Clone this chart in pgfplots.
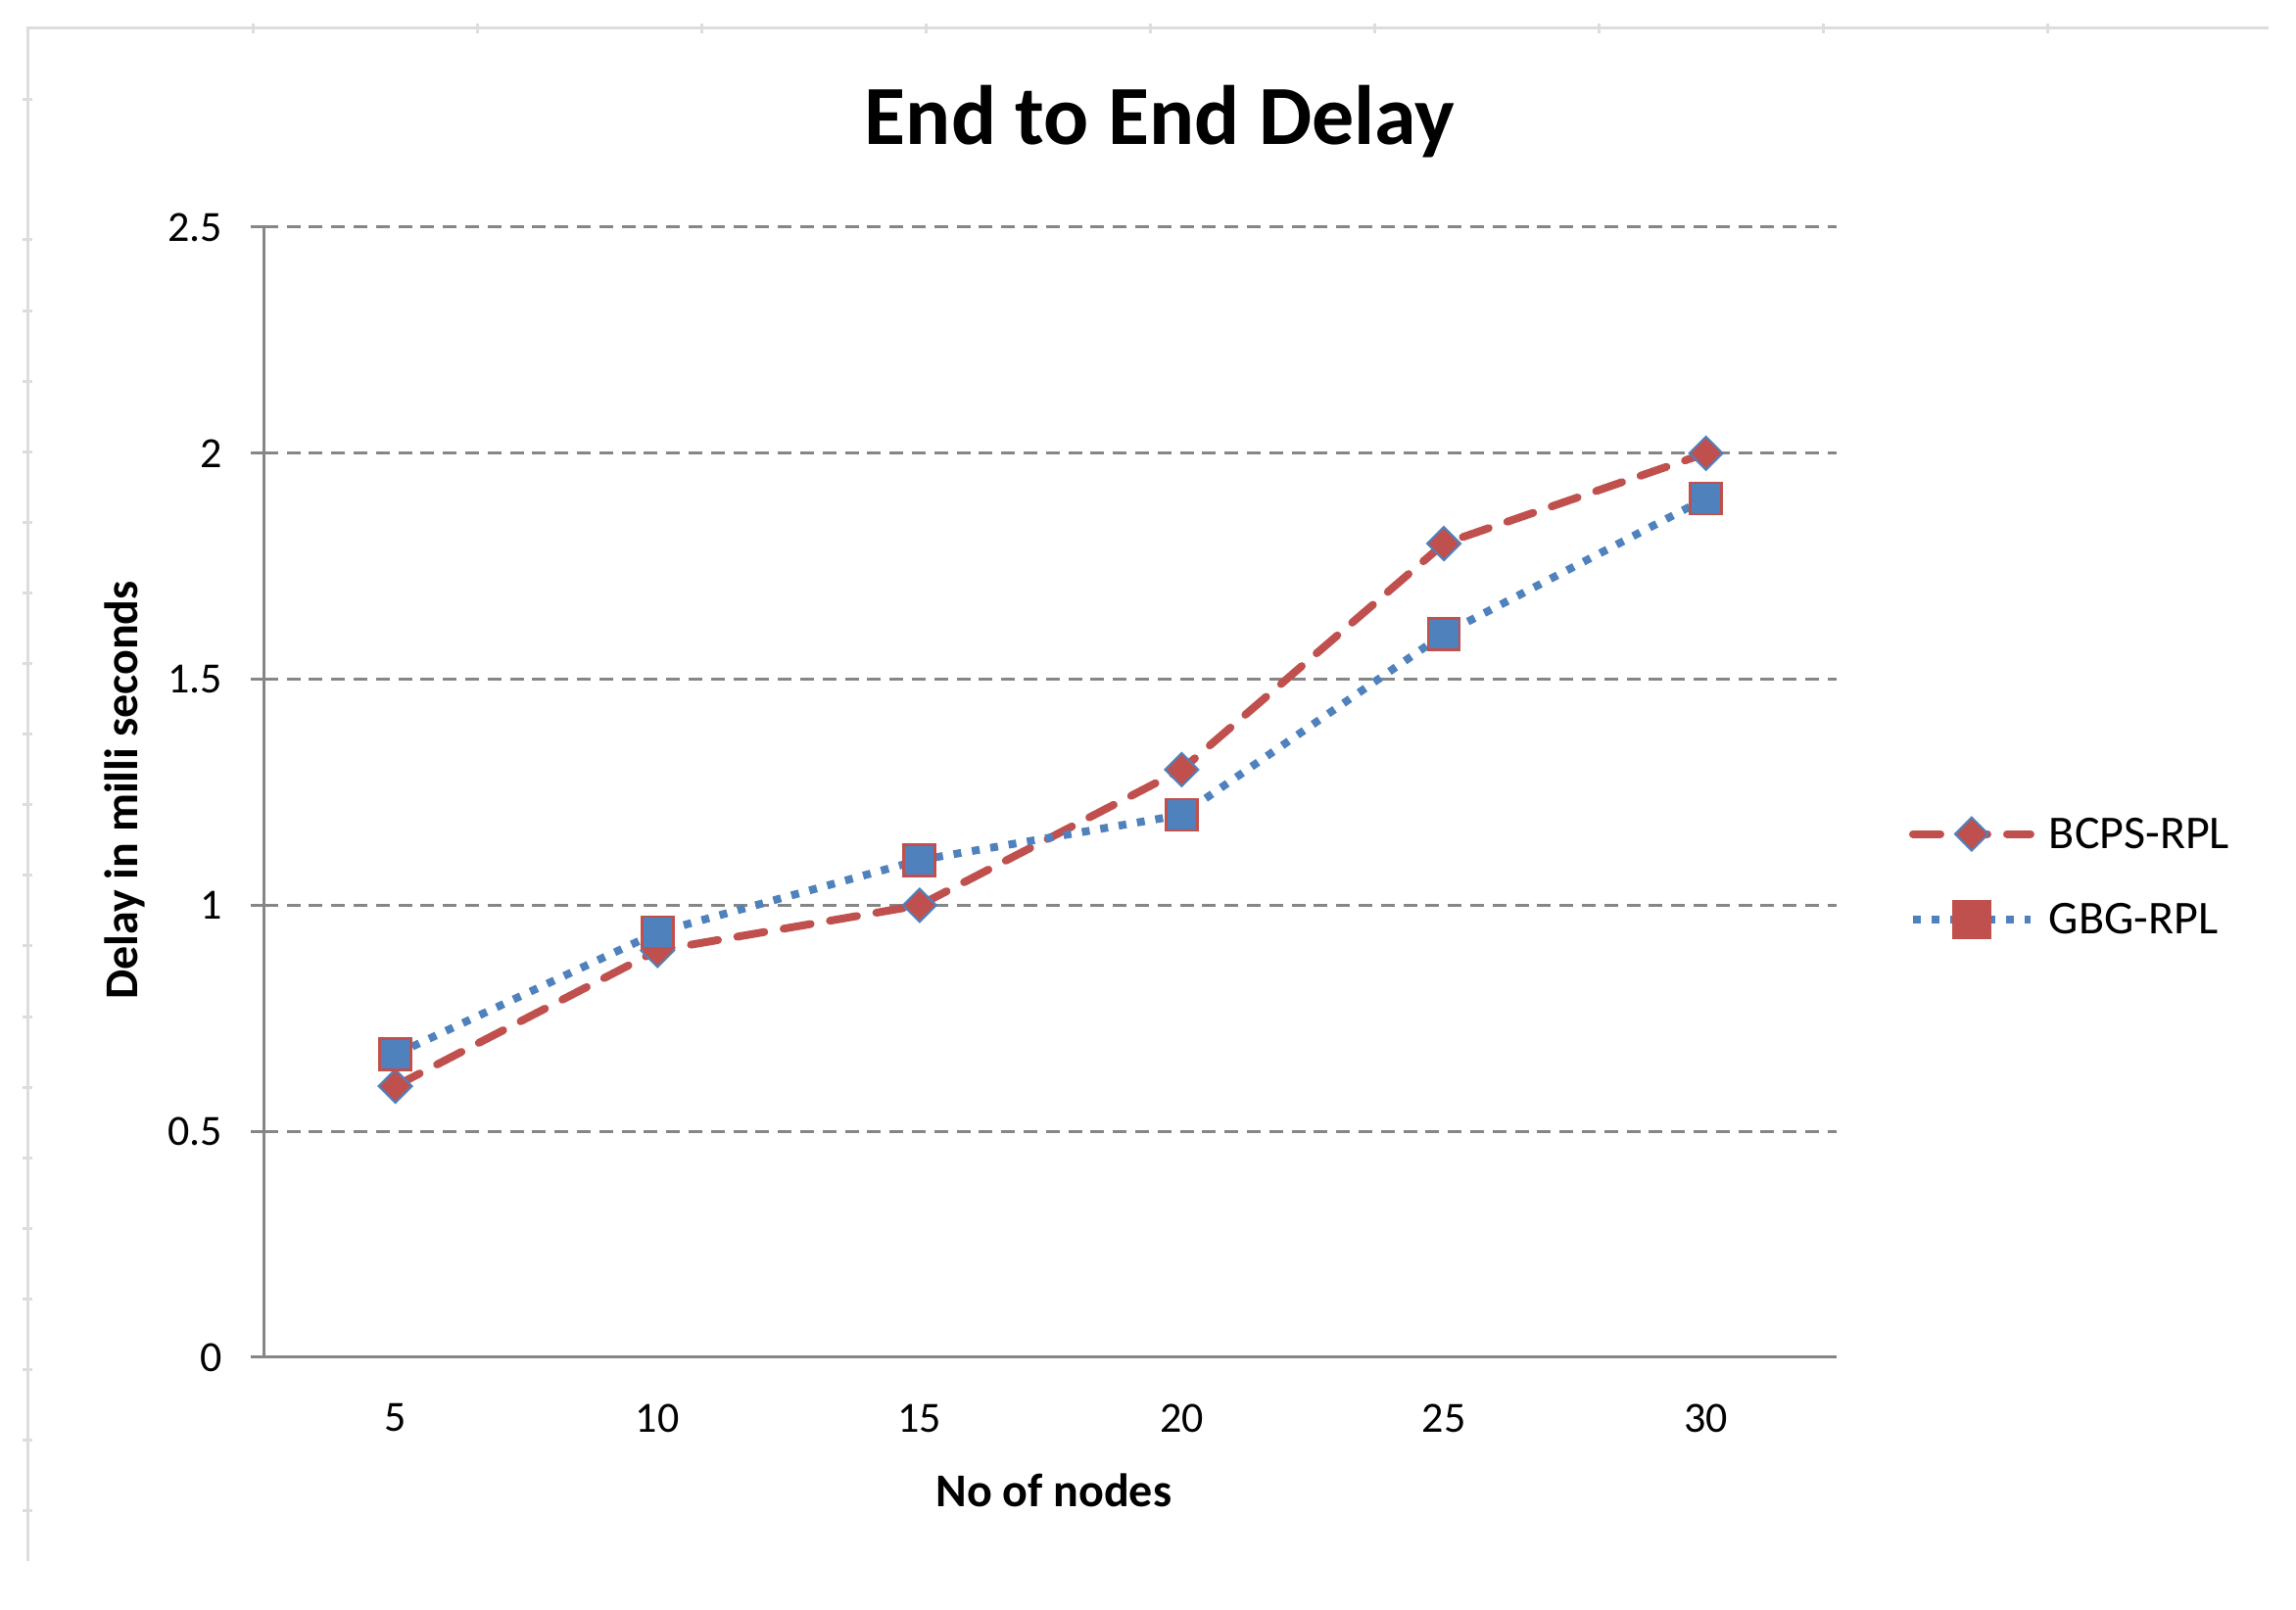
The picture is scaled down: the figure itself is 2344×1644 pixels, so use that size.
\documentclass[border=0pt]{standalone}
\usepackage{fontspec}
\setmainfont{Carlito}
\usepackage{pgfplots}
\pgfplotsset{compat=1.18}
\definecolor{exred}{RGB}{192,80,77}
\definecolor{exblue}{RGB}{79,129,189}
\definecolor{axgrey}{RGB}{134,134,134}
\definecolor{framegrey}{RGB}{221,221,221}
\begin{document}
\begin{tikzpicture}
\begin{scope}[x=0.25pt,y=0.25pt]
\path[use as bounding box] (0,0) rectangle (2344,1644);
\draw[framegrey, line width=0.75pt] (28,50) -- (28,1615) -- (2316,1615);
\draw[framegrey, line width=0.75pt] (23,1542) -- (33,1542);
\foreach \k in {0,...,18} {\draw[framegrey, line width=0.75pt] (23,{1399-72.1*\k}) -- (33,{1399-72.1*\k});}
\foreach \k in {0,...,8} {\draw[framegrey, line width=0.75pt] ({258+229*\k},1610) -- ({258+229*\k},1620);}
\end{scope}
\begin{axis}[
  at={(67.45pt,64.5pt)}, anchor=south west,
  scale only axis, width=401.4pt, height=288.5pt,
  xmin=2.5, xmax=32.5, ymin=0, ymax=2.5,
  xtick={5,10,...,30}, ytick={0,0.5,...,2.5},
  axis x line=bottom, axis y line=left,
  axis line style={axgrey, line width=0.75pt, -},
  x tick style={draw=none},
  y tick style={axgrey, line width=0.75pt},
  tick align=outside, major tick length=3.5pt,
  ymajorgrids, grid style={axgrey, line width=0.75pt, dash pattern=on 3.5pt off 2.2pt},
  ticklabel style={font=\fontsize{11}{13}\selectfont},
  xticklabel style={yshift=-4.9pt},
  yticklabel style={xshift=-3.7pt},
  /pgf/number format/assume math mode=true,
  title={End to End Delay},
  title style={at={(axis description cs:0.5694,1.0727)}, anchor=center, font=\fontsize{21.5}{25}\selectfont\bfseries},
  xlabel={No of nodes},
  xlabel style={at={(axis description cs:0.502,-0.118)}, anchor=center, font=\fontsize{12}{14}\selectfont\bfseries},
  ylabel={Delay in milli seconds},
  ylabel style={at={(axis description cs:-0.0889,0.5016)}, anchor=center, font=\fontsize{12}{14}\selectfont\bfseries},
  legend image code/.code={\draw[mark repeat=2, mark phase=2, #1] plot coordinates {(0pt,0pt)(15pt,0pt)(30pt,0pt)};},
  legend style={draw=none, fill=none, at={(axis description cs:1.0458,0.4258)}, anchor=west,
    inner sep=0pt, outer sep=0pt, font=\fontsize{12}{14}\selectfont, row sep=13.5pt,
    nodes={inner sep=0pt, text height=7.5pt, text depth=0pt},
    /tikz/every odd column/.append style={column sep=3.75pt}},
  legend cell align=left,
]
\addplot[exred, line width=2pt, dash pattern=on 7pt off 5pt, line cap=round,
  mark=square*, mark size=3pt,
  mark options={rotate=45, solid, fill=exred, draw=exblue, line width=0.5pt}]
  coordinates {(5,0.6)(10,0.9)(15,1.0)(20,1.3)(25,1.8)(30,2.0)};
\addlegendentry{BCPS-RPL}
\addplot[exblue, line width=2pt, dash pattern=on 2pt off 2.75pt, forget plot,
  mark=square*, mark size=4pt,
  mark options={solid, fill=exblue, draw=exred, line width=0.7pt}]
  coordinates {(5,0.67)(10,0.94)(15,1.1)(20,1.2)(25,1.6)(30,1.9)};
\addlegendimage{exblue, line width=2pt, dash pattern=on 2pt off 2.75pt,
  mark=square*, mark size=4pt, mark options={solid, fill=exred, draw=exred}}
\addlegendentry{GBG-RPL}
\end{axis}
\end{tikzpicture}
\end{document}
